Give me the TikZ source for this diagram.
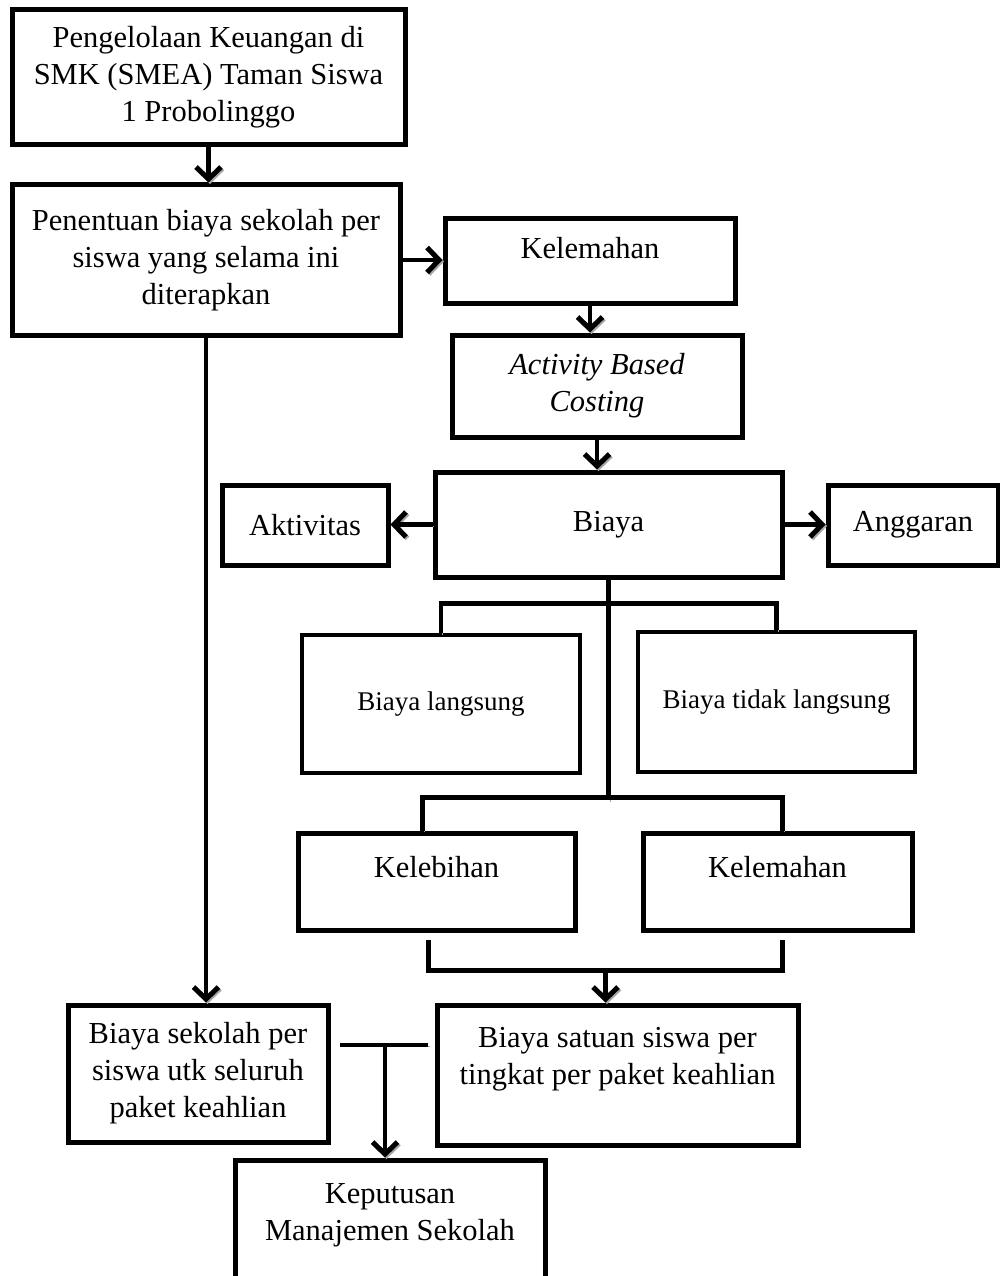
\documentclass[tikz,border=0pt]{standalone}
\usepackage{fontspec}
\setmainfont{Liberation Serif}
\usetikzlibrary{arrows.meta}
\usetikzlibrary{calc}

\tikzset{
  box/.style={draw, line width=5pt, inner sep=0pt, align=center,
    font=\fontsize{30.5}{37}\selectfont},
  thinbox/.style={draw, line width=3.5pt, inner sep=0pt, align=center,
    font=\fontsize{27}{33}\selectfont},
  raised/.style={text depth=#1},
  link/.style={line width=4.5pt,
    preaction={draw=black!35, transform canvas={shift={(1.5pt,-1.5pt)}}}},
  arr/.style={link, -{Straight Barb[length=12pt,width=25pt,line width=5pt]}}
}

\begin{document}
\begin{tikzpicture}[x=1pt,y=-1pt]
    \useasboundingbox (0,0) rectangle (1000,1276);
    \fill[white] (0,0) rectangle (1000,1276);

    % main column
    \node[box, minimum width=393pt, minimum height=135pt] (peng) at (208.5,77.5)
        {Pengelolaan Keuangan di\\SMK (SMEA) Taman Siswa\\1 Probolinggo};
    \node[box, minimum width=388pt, minimum height=150pt] (pen) at (206,260)
        {Penentuan biaya sekolah per\\siswa yang selama ini\\diterapkan};
    \node[box, raised=26pt, minimum width=290pt, minimum height=85pt] (lemah) at (590,260.5)
        {Kelemahan};
    \node[box, minimum width=290pt, minimum height=102pt] (abc) at (597,386)
        {\itshape Activity Based\\\itshape Costing};
    \node[box, minimum width=347pt, minimum height=105pt] (biaya) at (608.5,524.5) {Biaya};
    \node[box, minimum width=166pt, minimum height=80pt] (akt) at (305,525) {Aktivitas};
    \node[box, minimum width=170pt, minimum height=80pt] (ang) at (913,525) {Anggaran};

    % jenis biaya
    \node[thinbox, minimum width=278pt, minimum height=138pt] (langsung) at (441,704)
        {Biaya langsung};
    \node[thinbox, minimum width=277pt, minimum height=140pt] (tidak) at (776.5,702)
        {Biaya tidak langsung};

    \node[box, raised=30pt, minimum width=277pt, minimum height=97pt] (lebih) at (436.5,881.5)
        {Kelebihan};
    \node[box, raised=30pt, minimum width=269pt, minimum height=97pt] (lemah2) at (777.5,881.5)
        {Kelemahan};

    % hasil
    \node[box, minimum width=260pt, minimum height=137pt] (sekolah) at (198,1073.5)
        {Biaya sekolah per\\siswa utk seluruh\\paket keahlian};
    \node[box, raised=39pt, minimum width=361pt, minimum height=140pt] (satuan) at (617.5,1075)
        {Biaya satuan siswa per\\tingkat per paket keahlian};
    \node[box, raised=57pt, minimum width=310pt, minimum height=160pt] (kep) at (390,1240)
        {Keputusan\\Manajemen Sekolah};

    % connectors
    \draw[arr] (peng.south) -- (peng.south |- pen.north);
    \draw[arr] (pen.east) -- (pen.east -| lemah.west);
    \draw[arr] (lemah.south) -- (lemah.south |- abc.north);
    \draw[arr] (abc.south) -- (abc.south |- biaya.north);
    \draw[arr] (biaya.west) -- (biaya.west -| akt.east);
    \draw[arr] (biaya.east) -- (biaya.east -| ang.west);
    \draw[arr] (pen.south) -- (pen.south |- sekolah.north);

    \coordinate (split) at (608,800);
    \draw[link] (biaya.south) -- (biaya.south |- split);
    \draw[link] (langsung.north) -- ++(0,-30) -| (tidak.north);
    \draw[link] ($(lebih.north)+(-14,0)$) -- ++(0,-33) -| ($(lemah2.north)+(5,0)$);

    \coordinate (bl) at ($(lebih.south)+(-8,7)$);
    \coordinate (br) at ($(lemah2.south)+(5,7)$);
    \draw[link] (bl) -- ++(0,31) -| (br);
    \coordinate (join) at ($(bl)!0.5!(br)+(0,31)$);
    \draw[arr] (join) -- (join |- satuan.north);

    \coordinate (tleft) at (340,1045);
    \coordinate (tright) at (428,1045);
    \draw[link] (tleft) -- (tright);
    \coordinate (tmid) at (385,1045);
    \draw[arr] (tmid) -- (tmid |- kep.north);
\end{tikzpicture}
\end{document}
